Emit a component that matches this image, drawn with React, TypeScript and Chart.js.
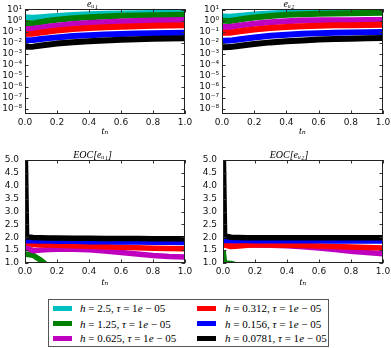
import React, { useEffect, useRef } from 'react';
import { Chart, registerables } from 'chart.js';

Chart.register(...registerables);

// ---------------- data ----------------
const times = [0, 0.01, 0.05, 0.1, 0.15, 0.2, 0.3, 0.4, 0.5, 0.6, 0.7, 0.8, 0.9, 1.0];

const seriesColors = ['#00bfbf', '#008000', '#bf00bf', '#ff0000', '#0000ff', '#000000'];
const hLabels = ['2.5', '1.25', '0.625', '0.312', '0.156', '0.0781'];

// error e_{u_1}
const eU1_h2500 = [1.9, 1.9, 1.8, 2.0, 2.3, 2.6, 3.2, 3.7, 4.1, 4.4, 4.6, 4.8, 4.9, 5.0];
const eU1_h1250 = [0.63, 0.62, 0.56, 0.76, 0.96, 1.2, 1.66, 2.04, 2.4, 2.7, 2.95, 3.1, 3.24, 3.3];
const eU1_h0625 = [0.17, 0.17, 0.18, 0.23, 0.29, 0.35, 0.49, 0.6, 0.71, 0.81, 0.91, 1.0, 1.07, 1.12];
const eU1_h0312 = [0.063, 0.063, 0.066, 0.083, 0.103, 0.126, 0.17, 0.21, 0.245, 0.28, 0.31, 0.34, 0.36, 0.38];
const eU1_h0156 = [0.017, 0.017, 0.0174, 0.0214, 0.026, 0.03, 0.04, 0.048, 0.055, 0.062, 0.068, 0.072, 0.076, 0.079];
const eU1_h0078 = [0.0042, 0.0042, 0.0044, 0.0055, 0.0068, 0.0083, 0.0112, 0.0138, 0.0162, 0.0186, 0.0204, 0.0224, 0.024, 0.025];

// error e_{u_2}
const eU2_h2500 = [2.34, 2.33, 2.29, 2.63, 3.1, 3.55, 4.37, 5.01, 5.5, 5.89, 6.03, 6.17, 6.31, 6.31];
const eU2_h1250 = [0.95, 0.95, 0.93, 1.2, 1.52, 1.91, 2.63, 3.31, 3.8, 4.17, 4.47, 4.68, 4.9, 5.01];
const eU2_h0625 = [0.263, 0.263, 0.269, 0.339, 0.43, 0.525, 0.724, 0.891, 1.0, 1.05, 1.07, 1.1, 1.12, 1.12];
const eU2_h0312 = [0.079, 0.079, 0.081, 0.102, 0.128, 0.158, 0.219, 0.269, 0.316, 0.347, 0.372, 0.389, 0.407, 0.417];
const eU2_h0156 = [0.0151, 0.0151, 0.0155, 0.0195, 0.0245, 0.0302, 0.0417, 0.0525, 0.0631, 0.0724, 0.0794, 0.0851, 0.0891, 0.0933];
const eU2_h0078 = [0.0038, 0.0038, 0.004, 0.005, 0.0063, 0.0078, 0.0107, 0.0135, 0.0162, 0.0191, 0.0214, 0.0234, 0.0251, 0.0263];

// EOC[e_{u_1}]
const eocU1_h1250 = [1.34, 1.34, 1.3, 1.1, 0.85, 0.7, 0.55, 0.45, 0.4, 0.38, 0.36, 0.35, 0.35, 0.35];
const eocU1_h0625 = [1.58, 1.58, 1.48, 1.5, 1.52, 1.53, 1.53, 1.51, 1.47, 1.41, 1.35, 1.29, 1.25, 1.23];
const eocU1_h0312 = [1.78, 1.78, 1.72, 1.7, 1.7, 1.69, 1.67, 1.65, 1.63, 1.61, 1.59, 1.57, 1.56, 1.55];
const eocU1_h0156 = [1.86, 1.86, 1.86, 1.85, 1.85, 1.84, 1.84, 1.83, 1.83, 1.82, 1.82, 1.81, 1.81, 1.8];
const eocU1_h0078 = [6.0, 2.02, 1.99, 1.98, 1.97, 1.97, 1.96, 1.96, 1.95, 1.95, 1.95, 1.94, 1.94, 1.94];

// EOC[e_{u_2}]
const eocU2_h1250 = [1.5, 1.0, 0.98, 0.9, 0.8, 0.7, 0.6, 0.55, 0.5, 0.5, 0.5, 0.5, 0.5, 0.5];
const eocU2_h0625 = [1.8, 1.79, 1.72, 1.7, 1.7, 1.7, 1.69, 1.67, 1.63, 1.58, 1.52, 1.46, 1.41, 1.36];
const eocU2_h0312 = [1.72, 1.7, 1.64, 1.66, 1.69, 1.7, 1.7, 1.69, 1.68, 1.66, 1.64, 1.62, 1.6, 1.58];
const eocU2_h0156 = [1.87, 1.87, 1.87, 1.87, 1.87, 1.86, 1.86, 1.86, 1.86, 1.86, 1.85, 1.85, 1.85, 1.85];
const eocU2_h0078 = [6.0, 2.05, 2.0, 1.99, 1.98, 1.98, 1.98, 1.98, 1.98, 1.98, 1.98, 1.98, 1.98, 1.98];

// ticks
const timeTicks = [0, 0.2, 0.4, 0.6, 0.8, 1.0];
const timeTickLabels = ['0.0', '0.2', '0.4', '0.6', '0.8', '1.0'];
const errTicks = [1e-8, 1e-7, 1e-6, 1e-5, 1e-4, 1e-3, 1e-2, 1e-1, 1e0, 1e1];
const errTickLabels = ['10⁻⁸', '10⁻⁷', '10⁻⁶', '10⁻⁵', '10⁻⁴', '10⁻³', '10⁻²', '10⁻¹', '10⁰', '10¹'];
const eocTicks = [1.0, 1.5, 2.0, 2.5, 3.0, 3.5, 4.0, 4.5, 5.0];
const eocTickLabels = ['1.0', '1.5', '2.0', '2.5', '3.0', '3.5', '4.0', '4.5', '5.0'];

const errMin = Math.pow(10, -8.45);
const errMax = Math.pow(10, 1.05);

// ---------------- helpers ----------------
const tickFont = "'DejaVu Sans', sans-serif";
const mathFont = "'Liberation Serif', 'DejaVu Serif', serif";

const frameTicksPlugin = {
  id: 'frameTicks',
  afterDatasetsDraw(chart: any) {
    const { ctx, chartArea: a, scales } = chart;
    const xs = scales.x;
    const ys = scales.y;
    const L = 3.5;
    ctx.save();
    ctx.strokeStyle = '#333';
    ctx.lineWidth = 1;
    ctx.beginPath();
    xs.ticks.forEach((t: any) => {
      const px = Math.round(xs.getPixelForValue(t.value)) + 0.5;
      ctx.moveTo(px, a.bottom);
      ctx.lineTo(px, a.bottom - L);
      ctx.moveTo(px, a.top);
      ctx.lineTo(px, a.top + L);
    });
    ys.ticks.forEach((t: any) => {
      const py = Math.round(ys.getPixelForValue(t.value)) + 0.5;
      ctx.moveTo(a.left, py);
      ctx.lineTo(a.left + L, py);
      ctx.moveTo(a.right, py);
      ctx.lineTo(a.right - L, py);
    });
    ctx.stroke();
    ctx.strokeStyle = '#222';
    ctx.strokeRect(a.left + 0.5, a.top + 0.5, a.right - a.left - 1, a.bottom - a.top - 1);
    ctx.restore();
  },
};

type PanelProps = {
  canvas: [number, number, number, number]; // left, top, width, height
  frame: [number, number, number, number]; // left, top, right, bottom
  title: string;
  titlePadTop: number;
  xTitleBottom: number;
  series: number[][];
  colorOffset: number;
  yType: 'logarithmic' | 'linear';
  yMin: number;
  yMax: number;
  yTicks: number[];
  yTickLabels: string[];
  yPad: number;
  lineWidth: number;
};

function Panel(p: PanelProps) {
  const ref = useRef<HTMLCanvasElement | null>(null);
  useEffect(() => {
    if (!ref.current) return;
    const [cx, cy, cw, ch] = p.canvas;
    const [fx0, fy0, fx1, fy1] = p.frame;
    const yWidth = fx0 - cx;
    const xHeight = cy + ch - fy1;
    const padRight = cx + cw - fx1;
    const titleBox = 9 + p.titlePadTop;
    const padTop = fy0 - cy - titleBox;
    const n = p.series.length;
    const datasets = p.series.map((vals, k) => {
      const ci = k + p.colorOffset;
      return {
        label: 'h = ' + hLabels[ci],
        data: times.map((t, i) => ({ x: t, y: vals[i] })),
        borderColor: seriesColors[ci],
        backgroundColor: seriesColors[ci],
        borderWidth: p.lineWidth,
        pointRadius: 0,
        tension: 0,
        borderJoinStyle: 'round',
        borderCapStyle: 'butt',
        clip: 0,
        order: n - k,
      };
    });
    const chart = new Chart(ref.current, {
      type: 'line',
      data: { datasets: datasets as any },
      options: {
        animation: false,
        responsive: false,
        devicePixelRatio: 1,
        layout: { padding: { left: 0, right: padRight, top: padTop, bottom: 0 } },
        plugins: {
          legend: { display: false },
          tooltip: { enabled: false },
          title: {
            display: true,
            text: p.title,
            color: '#000',
            font: { family: mathFont, size: 10, style: 'italic', weight: 'normal', lineHeight: 0.9 },
            padding: { top: p.titlePadTop, bottom: 0 },
          },
        },
        scales: {
          x: {
            type: 'linear',
            min: 0,
            max: 1,
            grid: { display: false, drawTicks: false, tickLength: 0 },
            border: { display: false },
            afterBuildTicks: (s: any) => {
              s.ticks = timeTicks.map((v) => ({ value: v }));
            },
            afterFit: (s: any) => {
              s.height = xHeight;
              s.paddingLeft = 0;
              s.paddingRight = 0;
            },
            ticks: {
              autoSkip: false,
              maxRotation: 0,
              padding: 3,
              color: '#111',
              font: { family: tickFont, size: 9 },
              callback: (_v: any, i: number) => timeTickLabels[i],
            },
            title: {
              display: true,
              text: 'tₙ',
              color: '#000',
              font: { family: mathFont, size: 10, style: 'italic', lineHeight: 1.2 },
              padding: { top: 0, bottom: p.xTitleBottom },
            },
          },
          y: {
            type: p.yType,
            min: p.yMin,
            max: p.yMax,
            grid: { display: false, drawTicks: false, tickLength: 0 },
            border: { display: false },
            afterBuildTicks: (s: any) => {
              s.ticks = p.yTicks.map((v) => ({ value: v }));
            },
            afterFit: (s: any) => {
              s.width = yWidth;
              s.paddingTop = 0;
              s.paddingBottom = 0;
            },
            ticks: {
              autoSkip: false,
              padding: p.yPad,
              color: '#111',
              font: { family: tickFont, size: 9 },
              callback: (_v: any, i: number) => p.yTickLabels[i],
            },
          } as any,
        },
      },
      plugins: [frameTicksPlugin],
    });
    return () => chart.destroy();
  }, []);
  const [cx, cy, cw, ch] = p.canvas;
  return (
    <canvas
      ref={ref}
      width={cw}
      height={ch}
      style={{ position: 'absolute', left: cx, top: cy, width: cw, height: ch }}
    />
  );
}

function LegendText({ h }: { h: string }) {
  return (
    <span>
      <i>h</i> = {h}, <i>τ</i> = 1<i>e</i> − 05
    </span>
  );
}

export default function App() {
  const rows = [9.3, 24.7, 39.3];
  return (
    <div
      style={{
        position: 'absolute',
        left: 0,
        top: 0,
        width: 391,
        height: 348,
        background: '#fff',
        overflow: 'hidden',
      }}
    >
      <Panel
        canvas={[0, 0, 195, 140]}
        frame={[25, 9, 185, 114]}
        title="eᵤ₁"
        titlePadTop={0}
        xTitleBottom={2.6}
        series={[eU1_h2500, eU1_h1250, eU1_h0625, eU1_h0312, eU1_h0156, eU1_h0078]}
        colorOffset={0}
        yType="logarithmic"
        yMin={errMin}
        yMax={errMax}
        yTicks={errTicks}
        yTickLabels={errTickLabels}
        yPad={3}
        lineWidth={6}
      />
      <Panel
        canvas={[195, 0, 196, 140]}
        frame={[222, 9, 383, 114]}
        title="eᵤ₂"
        titlePadTop={0}
        xTitleBottom={2.6}
        series={[eU2_h2500, eU2_h1250, eU2_h0625, eU2_h0312, eU2_h0156, eU2_h0078]}
        colorOffset={0}
        yType="logarithmic"
        yMin={errMin}
        yMax={errMax}
        yTicks={errTicks}
        yTickLabels={errTickLabels}
        yPad={3}
        lineWidth={6}
      />
      <Panel
        canvas={[0, 140, 195, 150]}
        frame={[25, 160, 185, 263]}
        title="EOC[eᵤ₁]"
        titlePadTop={6}
        xTitleBottom={1.6}
        series={[eocU1_h1250, eocU1_h0625, eocU1_h0312, eocU1_h0156, eocU1_h0078]}
        colorOffset={1}
        yType="linear"
        yMin={1}
        yMax={5}
        yTicks={eocTicks}
        yTickLabels={eocTickLabels}
        yPad={6}
        lineWidth={5.5}
      />
      <Panel
        canvas={[195, 140, 196, 150]}
        frame={[223, 160, 383, 263]}
        title="EOC[eᵤ₂]"
        titlePadTop={6}
        xTitleBottom={1.6}
        series={[eocU2_h1250, eocU2_h0625, eocU2_h0312, eocU2_h0156, eocU2_h0078]}
        colorOffset={1}
        yType="linear"
        yMin={1}
        yMax={5}
        yTicks={eocTicks}
        yTickLabels={eocTickLabels}
        yPad={6}
        lineWidth={5.5}
      />
      <div
        style={{
          position: 'absolute',
          left: 48,
          top: 299,
          width: 281,
          height: 48,
          border: '1px solid #555',
          boxSizing: 'border-box',
          background: '#fff',
          fontFamily: mathFont,
          fontSize: 11,
          color: '#000',
        }}
      >
        {seriesColors.map((c, i) => {
          const col = i < 3 ? 0 : 1;
          const cyRow = rows[i % 3] - 1;
          const swLeft = col === 0 ? 4 : 148;
          const txLeft = col === 0 ? 31 : 176;
          return (
            <React.Fragment key={i}>
              <div
                style={{
                  position: 'absolute',
                  left: swLeft,
                  top: cyRow - 2.5,
                  width: 19,
                  height: 5,
                  background: c,
                }}
              />
              <div
                style={{
                  position: 'absolute',
                  left: txLeft,
                  top: cyRow - 7,
                  height: 14,
                  lineHeight: '14px',
                  whiteSpace: 'nowrap',
                }}
              >
                <LegendText h={hLabels[i]} />
              </div>
            </React.Fragment>
          );
        })}
      </div>
    </div>
  );
}
